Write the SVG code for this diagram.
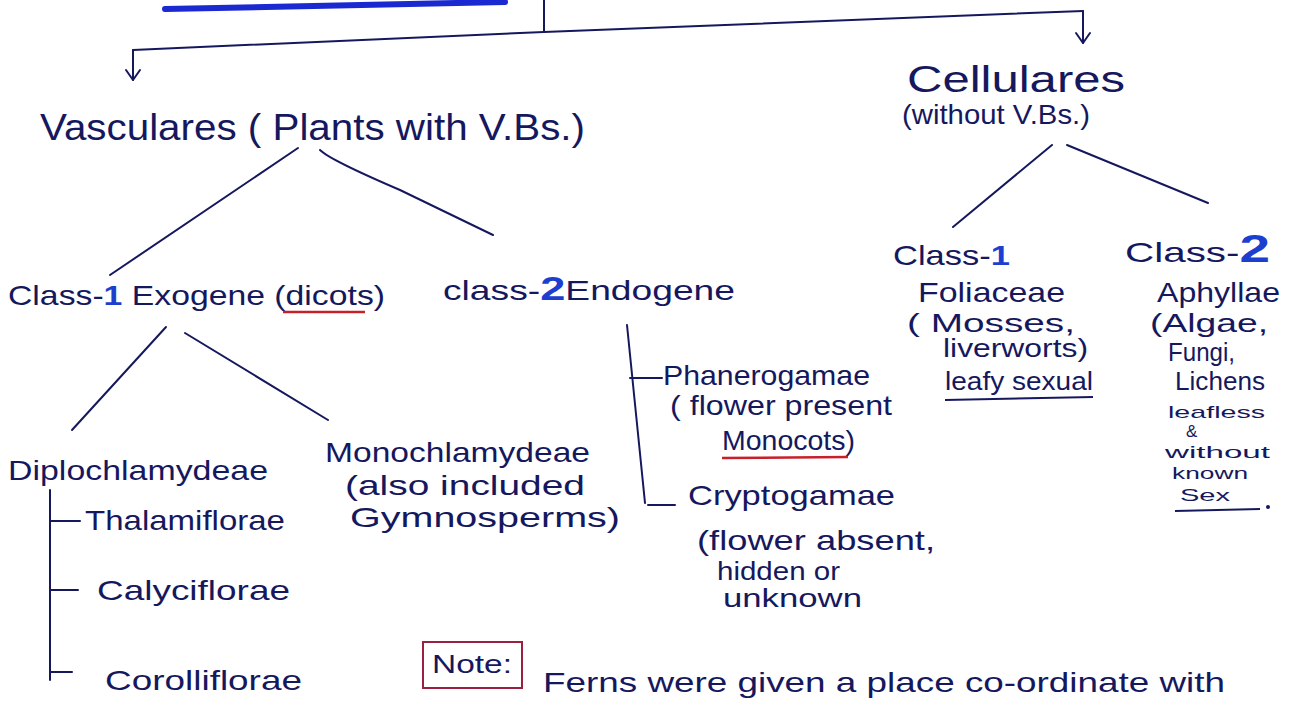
<svg xmlns="http://www.w3.org/2000/svg" width="1295" height="708" viewBox="0 0 1295 708">
<defs>
<style>
text{font-family:"Liberation Sans","DejaVu Sans",sans-serif;fill:#16185e;}
.t{font-size:28px;}
.s{font-size:25px;}
.x{font-size:17px;}
.b{font-size:36px;}
.ln{fill:none;stroke:#16185e;stroke-width:2;stroke-linecap:round;stroke-linejoin:round;}
.blue{fill:#1c3fd0;font-weight:bold;}
.red{fill:none;stroke:#c8202a;stroke-width:2.5;}
.ul{fill:none;stroke:#16185e;stroke-width:2;}
</style>
</defs>
<rect width="1295" height="708" fill="#ffffff"/>
<g id="connectors">
<path d="M165,9 L505,2" fill="none" stroke="#1a2ad0" stroke-width="6" stroke-linecap="round"/>
<path class="ln" d="M544,0 L544,32"/>
<path class="ln" d="M133,50 L544,32 L1083,11"/>
<path class="ln" d="M133,50 L133,80"/>
<path class="ln" d="M126,70 L133,80 L140,70"/>
<path class="ln" d="M1083,11 L1083,43"/>
<path class="ln" d="M1076,33 L1083,43 L1090,33"/>
<path class="ln" d="M298,148 L110,275"/>
<path class="ln" d="M320,150 Q330,160 400,190 L493,235"/>
<path class="ln" d="M1052,145 L953,227"/>
<path class="ln" d="M1067,145 L1208,203"/>
<path class="ln" d="M166,327 L72,430"/>
<path class="ln" d="M185,333 L328,420"/>
<path class="ln" d="M50,490 L50,680"/>
<path class="ln" d="M50,521 L80,521"/>
<path class="ln" d="M50,590 L78,590"/>
<path class="ln" d="M50,672 L72,672"/>
<path class="ln" d="M627,325 L645,503"/>
<path class="ln" d="M630,378 L662,378"/>
<path class="ln" d="M648,505 L675,505"/>
</g>
<g id="vasculares"><text class="b" x="40" y="140" textLength="545" lengthAdjust="spacingAndGlyphs">Vasculares ( Plants with V.Bs.)</text></g>
<g id="cellulares">
<text class="b" x="907" y="92" textLength="218" lengthAdjust="spacingAndGlyphs">Cellulares</text>
<text class="t" x="902" y="124" textLength="188" lengthAdjust="spacingAndGlyphs">(without V.Bs.)</text>
</g>
<g id="exogene">
<text class="t" x="8" y="305" textLength="377" lengthAdjust="spacingAndGlyphs">Class-<tspan class="blue">1</tspan> Exogene (dicots)</text>
<path class="red" d="M283,312 L365,312"/>
</g>
<g id="endogene"><text class="t" x="443" y="300" textLength="292" lengthAdjust="spacingAndGlyphs">class-<tspan class="blue" font-size="34">2</tspan>Endogene</text></g>
<g id="foliaceae">
<text class="t" x="893" y="265" textLength="117" lengthAdjust="spacingAndGlyphs">Class-<tspan class="blue">1</tspan></text>
<text class="t" x="918" y="302" textLength="147" lengthAdjust="spacingAndGlyphs">Foliaceae</text>
<text class="s" x="907" y="332" textLength="168" lengthAdjust="spacingAndGlyphs">( Mosses,</text>
<text class="s" x="943" y="357" textLength="145" lengthAdjust="spacingAndGlyphs">liverworts)</text>
<text class="s" x="945" y="390" textLength="148" lengthAdjust="spacingAndGlyphs">leafy sexual</text>
<path class="ul" d="M945,400 L1093,397"/>
</g>
<g id="aphyllae">
<text class="t" x="1125" y="262" textLength="145" lengthAdjust="spacingAndGlyphs">Class-<tspan class="blue" font-size="38">2</tspan></text>
<text class="t" x="1157" y="302" textLength="123" lengthAdjust="spacingAndGlyphs">Aphyllae</text>
<text class="s" x="1150" y="332" textLength="118" lengthAdjust="spacingAndGlyphs">(Algae,</text>
<text class="s" font-size="22" x="1168" y="361" textLength="67" lengthAdjust="spacingAndGlyphs">Fungi,</text>
<text class="s" font-size="22" x="1175" y="390" textLength="90" lengthAdjust="spacingAndGlyphs">Lichens</text>
<text class="x" x="1168" y="418" textLength="97" lengthAdjust="spacingAndGlyphs">leafless</text>
<text class="x" font-size="15" x="1186" y="437">&amp;</text>
<text class="x" x="1165" y="458" textLength="105" lengthAdjust="spacingAndGlyphs">without</text>
<text class="x" x="1172" y="479" textLength="76" lengthAdjust="spacingAndGlyphs">known</text>
<text class="x" x="1180" y="501" textLength="50" lengthAdjust="spacingAndGlyphs">Sex</text>
<path class="ul" d="M1175,511 L1260,509"/>
<circle cx="1268" cy="507" r="2" fill="#16185e"/>
</g>
<g id="diplochlamydeae"><text class="t" x="8" y="480" textLength="260" lengthAdjust="spacingAndGlyphs">Diplochlamydeae</text></g>
<g id="thalamiflorae"><text class="t" x="85" y="530" textLength="200" lengthAdjust="spacingAndGlyphs">Thalamiflorae</text></g>
<g id="calyciflorae"><text class="t" x="97" y="600" textLength="193" lengthAdjust="spacingAndGlyphs">Calyciflorae</text></g>
<g id="corolliflorae"><text class="t" x="105" y="690" textLength="197" lengthAdjust="spacingAndGlyphs">Corolliflorae</text></g>
<g id="monochlamydeae">
<text class="t" x="325" y="462" textLength="265" lengthAdjust="spacingAndGlyphs">Monochlamydeae</text>
<text class="t" x="345" y="495" textLength="240" lengthAdjust="spacingAndGlyphs">(also included</text>
<text class="t" x="350" y="527" textLength="270" lengthAdjust="spacingAndGlyphs">Gymnosperms)</text>
</g>
<g id="phanerogamae">
<text class="t" x="663" y="385" textLength="207" lengthAdjust="spacingAndGlyphs">Phanerogamae</text>
<text class="t" x="670" y="415" textLength="222" lengthAdjust="spacingAndGlyphs">( flower present</text>
<text class="t" x="722" y="450" textLength="133" lengthAdjust="spacingAndGlyphs">Monocots)</text>
<path class="red" d="M722,458 L848,457"/>
</g>
<g id="cryptogamae">
<text class="t" x="688" y="505" textLength="207" lengthAdjust="spacingAndGlyphs">Cryptogamae</text>
<text class="t" x="697" y="550" textLength="238" lengthAdjust="spacingAndGlyphs">(flower absent,</text>
<text class="s" x="717" y="580" textLength="123" lengthAdjust="spacingAndGlyphs">hidden or</text>
<text class="s" x="723" y="607" textLength="139" lengthAdjust="spacingAndGlyphs">unknown</text>
</g>
<g id="note">
<rect x="423" y="642" width="99" height="46" fill="none" stroke="#9a2040" stroke-width="2"/>
<text class="s" x="432" y="673" textLength="80" lengthAdjust="spacingAndGlyphs">Note:</text>
<text class="t" x="543" y="692" textLength="682" lengthAdjust="spacingAndGlyphs">Ferns were given a place co-ordinate with</text>
</g>
</svg>
